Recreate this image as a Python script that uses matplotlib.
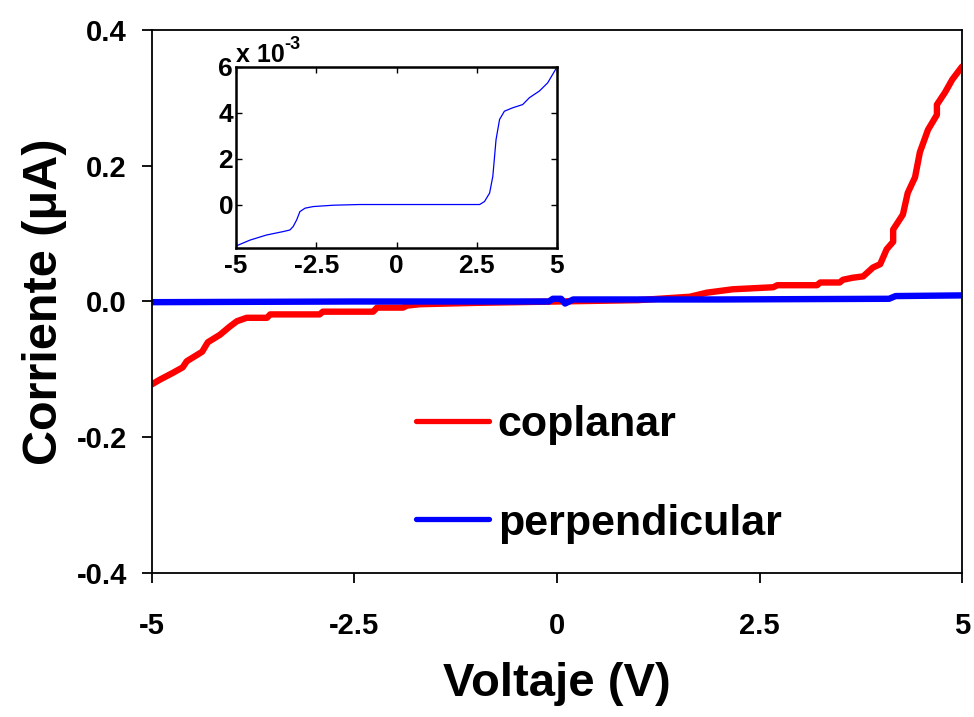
import matplotlib.pyplot as plt

plt.rcParams['font.family'] = ['Liberation Sans', 'DejaVu Sans']
plt.rcParams['font.weight'] = 'bold'

# coplanar (red)
v_cop = [-5.0, -4.9, -4.74, -4.62, -4.57, -4.38, -4.31, -4.16, -4.04, -3.95, -3.83,
         -3.58, -3.54, -2.93, -2.89, -2.27, -2.22, -1.9, -1.85, -1.69, -1.0, 0.0,
         1.0, 1.64, 1.85, 2.17, 2.67, 2.72, 3.21, 3.25, 3.49, 3.53, 3.65, 3.78,
         3.9, 3.99, 4.07, 4.15, 4.15, 4.27, 4.33, 4.42, 4.48, 4.58, 4.69, 4.69,
         4.79, 4.88, 5.0]
i_cop = [-0.122, -0.115, -0.105, -0.097, -0.088, -0.074, -0.060, -0.049, -0.037,
         -0.029, -0.024, -0.024, -0.019, -0.019, -0.015, -0.015, -0.009, -0.009,
         -0.006, -0.004, -0.002, 0.0, 0.002, 0.007, 0.013, 0.018, 0.021, 0.024,
         0.024, 0.028, 0.028, 0.032, 0.035, 0.037, 0.050, 0.055, 0.077, 0.088,
         0.106, 0.128, 0.160, 0.183, 0.220, 0.253, 0.275, 0.290, 0.308, 0.327,
         0.346]

# perpendicular (blue), main plot
v_perp = [-5.0, -2.5, -0.1, -0.05, 0.05, 0.1, 0.2, 2.0, 4.1, 4.18, 5.0]
i_perp = [-0.001, 0.0, 0.0, 0.004, 0.004, -0.003, 0.003, 0.003, 0.004, 0.008, 0.009]

# perpendicular zoom (inset), units of 1e-3 uA
v_ins = [-5.0, -4.56, -4.05, -3.53, -3.32, -3.22, -3.11, -3.01, -2.85, -2.6,
         -1.97, -1.15, 2.59, 2.74, 2.9, 3.0, 3.1, 3.21, 3.36, 3.62, 3.93, 4.14,
         4.45, 4.71, 5.0]
i_ins = [-1.81, -1.55, -1.33, -1.18, -1.11, -0.96, -0.67, -0.31, -0.16, -0.09,
         -0.03, 0.0, 0.0, 0.13, 0.50, 1.23, 2.83, 3.71, 4.07, 4.22, 4.36, 4.66,
         4.95, 5.31, 6.0]

fig = plt.figure(figsize=(9.74, 7.17), dpi=100)
ax = fig.add_axes([0.156, 0.2008, 0.8317, 0.7574])

ax.plot(v_cop, i_cop, color='#ff0000', lw=4.6, solid_capstyle='round',
        solid_joinstyle='round', label='coplanar')
ax.plot(v_perp, i_perp, color='#0000ff', lw=4.6, solid_capstyle='round',
        solid_joinstyle='round', label='perpendicular')

ax.set_xlim(-5, 5)
ax.set_ylim(-0.4, 0.4)
ax.set_xticks([-5, -2.5, 0, 2.5, 5])
ax.set_xticklabels(['-5', '-2.5', '0', '2.5', '5'])
ax.set_yticks([-0.4, -0.2, 0.0, 0.2, 0.4])
ax.set_yticklabels(['-0.4', '-0.2', '0.0', '0.2', '0.4'])
ax.tick_params(axis='x', direction='out', length=7, width=1.3, labelsize=21, pad=21)
ax.tick_params(axis='y', direction='out', length=7, width=1.3, labelsize=21, pad=11)
for s in ax.spines.values():
    s.set_linewidth(1.3)
ax.set_xlabel('Voltaje (V)', fontsize=34, fontweight='bold', labelpad=16)
ax.set_ylabel('Corriente (μA)', fontsize=35, fontweight='bold', labelpad=7)

leg = ax.legend(loc='upper left', bbox_to_anchor=(0.278, 0.38), frameon=False,
                fontsize=31, handlelength=1.7, handletextpad=0.2,
                labelspacing=1.35)
for line in leg.get_lines():
    line.set_linewidth(3.8)

# inset
axi = fig.add_axes([0.2423, 0.654, 0.3296, 0.2526])
axi.plot(v_ins, i_ins, color='#0000ff', lw=0.9)
axi.set_xlim(-5, 5)
axi.set_ylim(-1.9, 6)
axi.set_xticks([-5, -2.5, 0, 2.5, 5])
axi.set_xticklabels(['-5', '-2.5', '0', '2.5', '5'])
axi.set_yticks([0, 2, 4, 6])
axi.tick_params(direction='in', length=4, width=1, labelsize=19, pad=4,
                top=True, right=True)
axi.tick_params(axis='y', pad=2)
for s in axi.spines.values():
    s.set_linewidth(1.8)
axi.text(0.0, 1.0, 'x 10', transform=axi.transAxes,
         fontsize=18, fontweight='bold', ha='left', va='bottom')
axi.annotate('-3', xy=(0.0, 1.0), xycoords='axes fraction',
             xytext=(35, 10), textcoords='offset points',
             fontsize=13, fontweight='bold', ha='left', va='bottom')

fig.savefig('out.png', dpi=100)
